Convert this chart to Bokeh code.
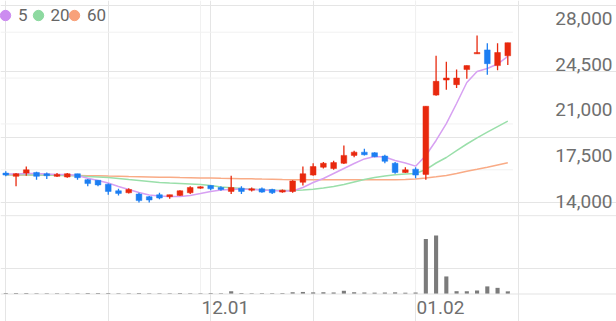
import math
from bokeh.plotting import figure
from bokeh.models import Range1d, Span, Legend, LegendItem
from bokeh.core.properties import value
from bokeh.embed import file_html
from bokeh.resources import INLINE

# ---------------- data ----------------
dates = ["11.04", "11.07", "11.08", "11.09", "11.10", "11.11", "11.14", "11.15", "11.16", "11.17",
         "11.18", "11.21", "11.22", "11.23", "11.24", "11.25", "11.28", "11.29", "11.30",
         "12.01", "12.02", "12.05", "12.06", "12.07", "12.08", "12.09", "12.12", "12.13", "12.14",
         "12.15", "12.16", "12.19", "12.20", "12.21", "12.22", "12.23", "12.26", "12.27", "12.28",
         "12.29", "01.02", "01.03", "01.04", "01.05", "01.06", "01.09", "01.10", "01.11", "01.12",
         "01.13"]
open_ = [17250, 17000, 17250, 17300, 17200, 17000, 16950, 17200, 16750, 16700,
         16400, 15900, 15750, 15650, 15450, 15600, 15450, 15550, 15750, 16100,
         16300, 16150, 15850, 16100, 15950, 16050, 16000, 15800, 15850, 16550,
         17100, 17700, 17600, 18000, 18600, 18850, 18800, 18550, 18000, 17300,
         17550, 17150, 23200, 24350, 24000, 25150, 26350, 26650, 25450, 26200]
high = [17400, 17250, 17750, 17350, 17300, 17250, 17250, 17200, 16800, 16700,
        16450, 16050, 16100, 15750, 15500, 15750, 15600, 15950, 16250, 16250,
        16350, 16250, 17050, 16250, 16150, 16150, 16050, 16000, 16700, 17750,
        18000, 18100, 18200, 19350, 18950, 19100, 18850, 18650, 18100, 17700,
        17700, 22350, 26200, 25750, 25150, 25450, 27750, 27150, 27150, 27200]
low = [17000, 16250, 17050, 16750, 16800, 16950, 16900, 16750, 16250, 16250,
       15600, 15550, 15700, 15000, 15000, 15250, 15300, 15500, 15650, 16050,
       15950, 15900, 15650, 15650, 15850, 15750, 15650, 15750, 15750, 16300,
       17050, 17600, 17500, 17950, 18450, 18600, 18450, 18000, 17200, 17250,
       16850, 16750, 23150, 23600, 23750, 24450, 26350, 24750, 25100, 25500]
close = [17100, 17200, 17500, 17000, 17050, 17150, 17200, 16900, 16450, 16350,
         15850, 15700, 16000, 15150, 15200, 15350, 15600, 15900, 16150, 16200,
         16050, 16000, 16150, 15850, 16050, 15800, 15750, 15950, 16650, 17200,
         17750, 18000, 18050, 18600, 18850, 18650, 18500, 18150, 17300, 17500,
         17100, 22350, 24250, 24500, 24500, 25450, 26450, 25600, 26450, 27200]
volume = [150000, 180000, 160000, 140000, 130000, 120000, 130000, 140000, 160000, 150000,
          170000, 140000, 130000, 160000, 140000, 120000, 130000, 150000, 140000, 130000,
          150000, 130000, 450000, 150000, 130000, 150000, 140000, 160000, 300000, 350000,
          280000, 300000, 260000, 550000, 300000, 260000, 230000, 250000, 280000, 220000,
          250000, 9400000, 10000000, 3000000, 480000, 470000, 600000, 1300000, 1050000, 450000]
ma5 = [17180, 17180, 17220, 17220, 17180, 17140, 17140, 17070, 16860, 16690,
       16490, 16230, 16000, 15770, 15580, 15500, 15460, 15460, 15540, 15690,
       15850, 15960, 16000, 16040, 16000, 15960, 15920, 15880, 15880, 16150,
       16530, 16840, 17220, 17600, 17980, 18330, 18520, 18480, 18210, 18020,
       17780, 18590, 19740, 21030, 22560, 24160, 25000, 25230, 25570, 26150]
ma20 = [17120, 17120, 17120, 17100, 17100, 17090, 17070, 17040, 16990, 16950,
        16910, 16840, 16760, 16690, 16610, 16530, 16490, 16460, 16420, 16380,
        16300, 16190, 16130, 16070, 16020, 15980, 15950, 15920, 15920, 15960,
        16020, 16110, 16230, 16380, 16570, 16760, 16910, 17030, 17120, 17180,
        17220, 17520, 18020, 18440, 18970, 19470, 19930, 20370, 20800, 21210]
ma60 = [17120, 17110, 17100, 17100, 17090, 17080, 17070, 17070, 17050, 17040,
        17020, 17010, 16990, 16980, 16960, 16940, 16930, 16910, 16900, 16880,
        16870, 16850, 16840, 16820, 16810, 16790, 16780, 16760, 16750, 16750,
        16740, 16740, 16740, 16740, 16740, 16740, 16740, 16740, 16740, 16760,
        16800, 16880, 16970, 17070, 17220, 17390, 17540, 17700, 17870, 18040]
price_ticks = [14000, 17500, 21000, 24500, 28000]
date_ticks = ["12.01", "01.02"]
ma_labels = ["5", "20", "60"]

# ---------------- style ----------------
UP, DOWN = "#e8290e", "#1c7ef2"
MA_LINE = ["#d7a0f2", "#9adfaa", "#f9ab86"]
MA_DOT = ["#cc8cf0", "#8dd9a0", "#f8a17a"]
GRID = "#f1f1f1"
TXT = "#6f6f6f"
FONT = "Roboto"

W, H = 616, 321
STEP_PX = 10.245
X0 = -0.517
PRICE_TOP, PRICE_PER_PX = 30419, 76.3
VOL_BASE_PX, VOL_MAX_PX = 293.5, 58.5
LEGEND_CENTERS_PX = [5, 37.5, 74]
LEGEND_GLYPH = 26

n = len(dates)
idx = list(range(n))
vol_per_px = max(volume) / VOL_MAX_PX
vol_end = VOL_BASE_PX * vol_per_px
vol_start = -(H - VOL_BASE_PX) * vol_per_px
x_end = X0 + W / STEP_PX

p = figure(width=W, height=H, output_backend="svg", toolbar_location=None,
           x_range=Range1d(X0, x_end),
           y_range=Range1d(PRICE_TOP - H * PRICE_PER_PX, PRICE_TOP),
           x_axis_location=None, y_axis_location=None,
           min_border=0, outline_line_color=None,
           background_fill_color="white", border_fill_color="white")
p.extra_y_ranges = {"vol": Range1d(vol_start, vol_end)}

# grid lines
grid_ticks = price_ticks[1:]
p.segment(x0=[X0] * len(grid_ticks), y0=grid_ticks, x1=[n - 0.5] * len(grid_ticks), y1=grid_ticks,
          line_color=GRID, line_width=1)
p.add_layout(Span(location=price_ticks[0], dimension="width", line_color="#e6e6e6", line_width=1))
p.add_layout(Span(location=0, dimension="width", y_range_name="vol", line_color="#e3e3e3", line_width=1))
tick_idx = [dates.index(t) for t in date_ticks]
p.segment(x0=tick_idx, y0=[0] * len(tick_idx), x1=tick_idx, y1=[vol_end] * len(tick_idx),
          y_range_name="vol", line_color=GRID, line_width=1)

# volume
p.vbar(x=idx, width=0.4, top=volume, bottom=0, y_range_name="vol",
       fill_color="#7b7b7b", line_color=None)

# moving averages
for ma, c in zip([ma60, ma20, ma5], MA_LINE[::-1]):
    p.line(idx, ma, line_color=c, line_width=1.5)

# candles
colors = [UP if c >= o else DOWN for o, c in zip(open_, close)]
p.segment(x0=idx, y0=high, x1=idx, y1=low, line_color=colors, line_width=1.3)
p.vbar(x=idx, width=0.56, top=[max(o, c) for o, c in zip(open_, close)],
       bottom=[min(o, c) for o, c in zip(open_, close)],
       fill_color=colors, line_color=colors, line_width=0.5)

# price labels (right side, above grid lines)
p.text(x=[x_end] * len(price_ticks), y=price_ticks, text=[f"{t:,}" for t in price_ticks],
       x_offset=-4, y_offset=-14, text_align="right", text_baseline="alphabetic",
       text_font=value(FONT), text_font_size="19px", text_color=TXT)

# date labels
p.text(x=tick_idx, y=[0] * len(tick_idx), text=date_ticks, y_range_name="vol",
       x_offset=1, y_offset=13, text_align="left", text_baseline="middle",
       text_font=value(FONT), text_font_size="19px", text_color=TXT)

# legend: one small legend per moving average
for lab, c, cx in zip(ma_labels, MA_DOT, LEGEND_CENTERS_PX):
    r = p.scatter(x=[math.nan], y=[math.nan], marker="circle", fill_color=c, line_color=c)
    lg = Legend(items=[LegendItem(label=lab, renderers=[r])], orientation="horizontal",
                location=(cx - LEGEND_GLYPH / 2, H - 15 - LEGEND_GLYPH / 2),
                glyph_width=LEGEND_GLYPH, glyph_height=LEGEND_GLYPH, label_standoff=-1,
                label_width=0, label_height=LEGEND_GLYPH,
                padding=0, margin=0, border_line_color=None, background_fill_alpha=0,
                label_text_font=FONT, label_text_font_size="17px", label_text_color="#666666")
    p.add_layout(lg)

open("out.html", "w").write(file_html(p, INLINE))
